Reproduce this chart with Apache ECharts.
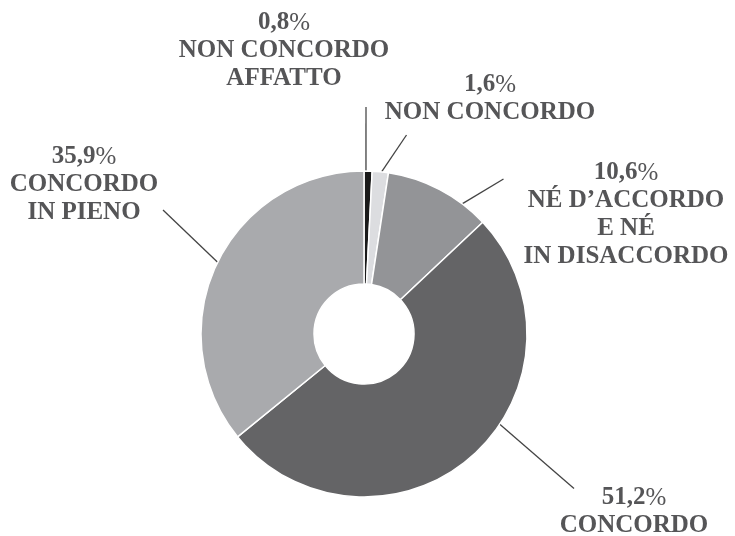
<!DOCTYPE html>
<html>
<head>
<meta charset="utf-8">
<script src="https://cdn.jsdelivr.net/npm/echarts@6/dist/echarts.min.js"></script>
<style>
html,body{margin:0;padding:0;background:#fff;}
#chart{width:735px;height:536px;}
</style>
</head>
<body>
<div id="chart"></div>
<script>
// ---- data ----
var categories = ['NON CONCORDO\nAFFATTO', 'NON CONCORDO', 'NÉ D\u2019ACCORDO\nE NÉ\nIN DISACCORDO', 'CONCORDO', 'CONCORDO\nIN PIENO'];
var values = [0.8, 1.6, 10.6, 51.2, 35.9];

// ---- layout / style (not data) ----
var colors = ['#1a1a1a', '#dcdde0', '#939497', '#646466', '#a9aaad'];
var CX = 364, CY = 334, R = 163;
var labelPos = [[284, 51], [490, 99], [626, 215], [634, 512], [84, 185]];
var leaderAngle = [0.7, 6.2, 37, 123.6, 296.1];
var leaderEnd = [[366, 107], [406.5, 135], [503.5, 179], [574, 488.5], [163, 210]];

function fmt(v) { return String(v.toFixed(1)).replace('.', ','); }

var chart = echarts.init(document.getElementById('chart'), null, {renderer: 'canvas'});
var data = categories.map(function (c, i) {
  return {name: c, value: values[i], itemStyle: {color: colors[i]}};
});

var FS = 25;
chart.setOption({
  animation: false,
  backgroundColor: '#fff',
  series: [{
    type: 'pie',
    center: [CX, CY],
    radius: [50, R],
    startAngle: 90,
    clockwise: true,
    avoidLabelOverlap: false,
    data: data,
    itemStyle: {borderColor: '#fff', borderWidth: 1.5},
    label: {
      show: true,
      position: 'outside',
      formatter: function (p) {
        var lines = p.name.split('\n').map(function (l) { return '{t|' + l + '}'; });
        return '{n|' + fmt(p.value) + '}{p|%}\n' + lines.join('\n');
      },
      rich: {
        n: {fontFamily: 'Liberation Serif', fontWeight: 'bold', fontSize: FS, color: '#555557', lineHeight: 28},
        p: {fontFamily: 'Liberation Serif', fontWeight: 'normal', fontSize: FS, color: '#555557', lineHeight: 28},
        t: {fontFamily: 'Liberation Serif', fontWeight: 'bold', fontSize: FS, color: '#555557', lineHeight: 28, align: 'center'}
      }
    },
    labelLine: {show: true, length: 20, length2: 0, lineStyle: {color: '#444', width: 1.3}},
    labelLayout: function (params) {
      var i = params.dataIndex;
      var a = leaderAngle[i] * Math.PI / 180;
      var start = [CX + R * Math.sin(a), CY - R * Math.cos(a)];
      var end = leaderEnd[i];
      return {
        x: labelPos[i][0],
        y: labelPos[i][1],
        align: 'center',
        verticalAlign: 'middle',
        labelLinePoints: [start, end, end]
      };
    }
  }]
});
</script>
</body>
</html>
